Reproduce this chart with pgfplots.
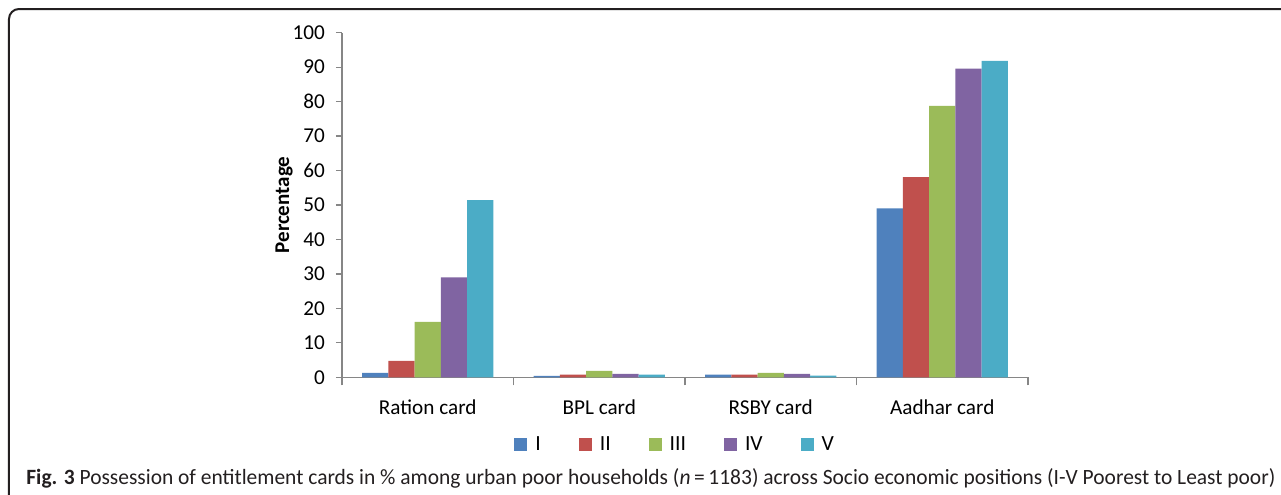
\documentclass[border=0pt]{standalone}
\usepackage{pgfplots}
\pgfplotsset{compat=1.18}
\usepackage{fontspec}
\setmainfont{Carlito}
\definecolor{cI}{HTML}{4F81BD}
\definecolor{cII}{HTML}{C0504D}
\definecolor{cIII}{HTML}{9BBB59}
\definecolor{cIV}{HTML}{8064A2}
\definecolor{cV}{HTML}{4BACC6}
\definecolor{axgray}{HTML}{868686}
\definecolor{frame}{HTML}{231F20}
\begin{document}
\begin{tikzpicture}
\useasboundingbox (-171pt,-58.35pt) rectangle (469.5pt,188.65pt);
\draw[frame, line width=1pt, rounded corners=5pt] (-166.5pt,-80pt) -- (-166.5pt,184.15pt) -- (500pt,184.15pt);
\begin{axis}[
  at={(0,0)}, anchor=south west,
  scale only axis, width=343pt, height=172.3pt,
  ybar=0pt, bar width=0.153,
  xmin=-0.5, xmax=3.5, ymin=0, ymax=100,
  axis lines*=left,
  axis line style={draw=axgray, line width=0.6pt, -},
  xtick={0,1,2,3},
  xticklabels={Ration card, BPL card, RSBY card, Aadhar card},
  minor xtick={-0.5,0.5,1.5,2.5,3.5},
  major x tick style={draw=none},
  minor x tick style={draw=axgray, line width=0.6pt},
  minor tick length=4pt,
  ytick={0,10,...,100},
  y tick style={draw=axgray, line width=0.6pt},
  major tick length=3pt,
  tick align=outside,
  /pgf/number format/assume math mode=true,
  tick label style={font=\fontsize{10.6pt}{12pt}\selectfont, text=black},
  xticklabel style={yshift=-4.5pt},
  yticklabel style={xshift=-2pt},
  every axis y label/.style={at={(axis description cs:-0.0845,0.5)}, rotate=90, anchor=center, font=\fontsize{10.5pt}{12pt}\selectfont\bfseries},
  ylabel={Percentage},
  legend columns=5,
  legend style={draw=none, fill=none, inner sep=0pt, at={(axis description cs:0.2507,-0.1964)}, anchor=west,
    font=\fontsize{10.8pt}{12pt}\selectfont,
    nodes={inner xsep=4pt},
    /tikz/every even column/.append style={column sep=15pt}},
  legend image code/.code={\fill[#1,draw=none] (0pt,-3.25pt) rectangle (6.5pt,3.25pt);},
]
\addplot[fill=cI, draw=none] coordinates {(0,1.3) (1,0.4) (2,0.8) (3,49.0)};
\addplot[fill=cII, draw=none] coordinates {(0,4.8) (1,0.8) (2,0.8) (3,58.1)};
\addplot[fill=cIII, draw=none] coordinates {(0,16.1) (1,1.9) (2,1.3) (3,78.8)};
\addplot[fill=cIV, draw=none] coordinates {(0,29.0) (1,1.0) (2,1.0) (3,89.6)};
\addplot[fill=cV, draw=none] coordinates {(0,51.4) (1,0.8) (2,0.5) (3,91.8)};
\legend{I, II, III, IV, V}
\end{axis}
\node[anchor=base west, inner sep=0pt, text=frame] at (-158pt,-53.7pt) {\resizebox{624.5pt}{\height}{\fontsize{10.9pt}{13pt}\selectfont\textbf{Fig. 3} Possession of entitlement cards in \% among urban poor households (\textit{n}\,=\,1183) across Socio economic positions (I-V Poorest to Least poor)}};
\end{tikzpicture}
\end{document}
